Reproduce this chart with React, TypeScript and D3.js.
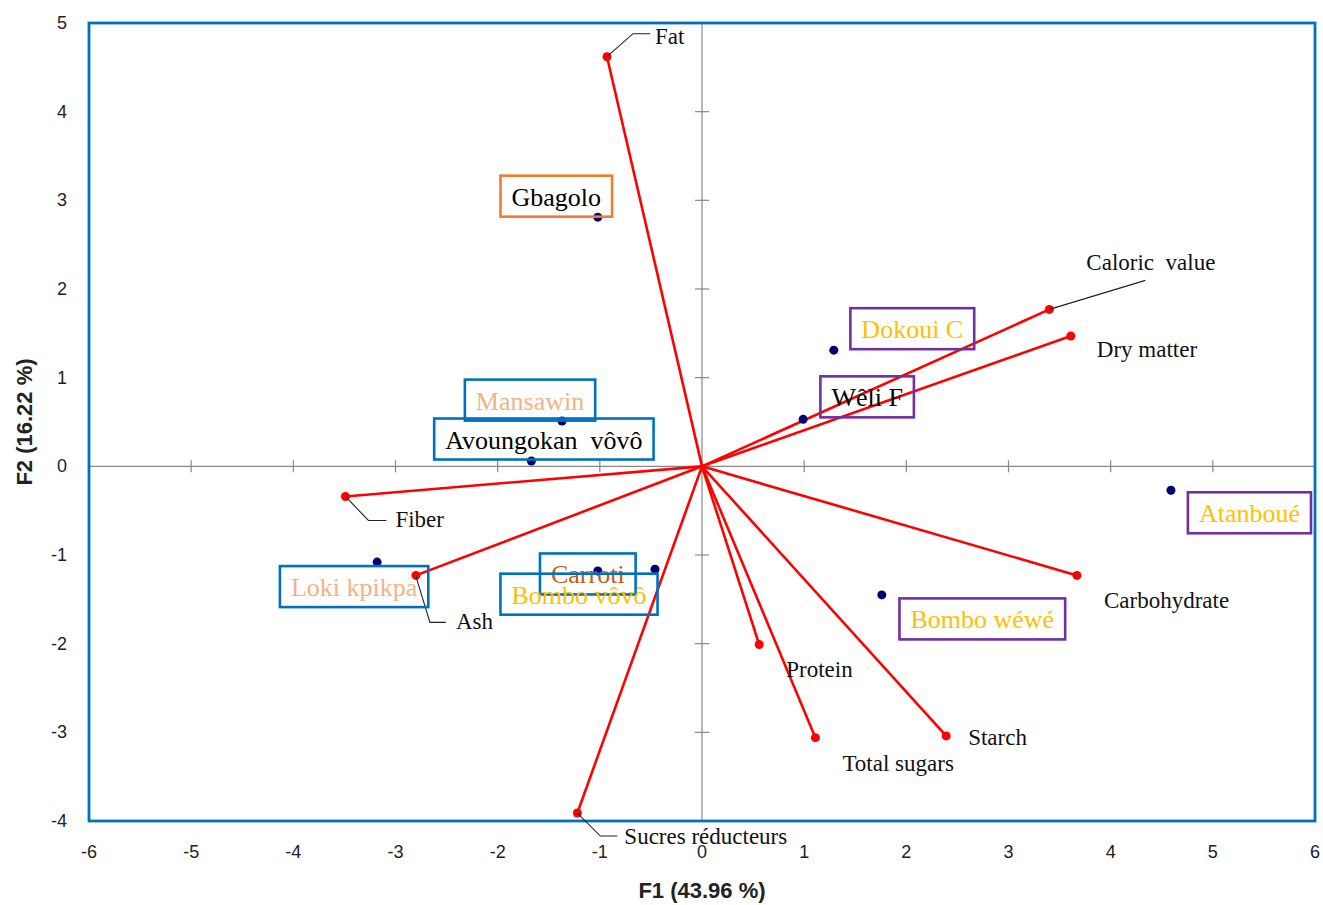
import React, { useEffect, useRef } from 'react';
import * as d3 from 'd3';

// ---- Data ----
const variables = ['Fat', 'Caloric  value', 'Dry matter', 'Fiber', 'Ash', 'Carbohydrate', 'Protein', 'Total sugars', 'Starch', 'Sucres réducteurs'];
const varF1 = [-0.93, 3.4, 3.61, -3.49, -2.8, 3.67, 0.56, 1.11, 2.39, -1.22];
const varF2 = [4.62, 1.77, 1.47, -0.34, -1.23, -1.23, -2.01, -3.06, -3.04, -3.91];

const observations = ['Gbagolo', 'Dokoui C', 'Wêli F', 'Mansawin', 'Avoungokan  vôvô', 'Atanboué', 'Loki kpikpa', 'Carroti', 'Bombo vôvô', 'Bombo wéwé'];
const obsF1 = [-1.02, 1.29, 0.99, -1.37, -1.67, 4.59, -3.18, -1.02, -0.46, 1.76];
const obsF2 = [2.81, 1.31, 0.53, 0.51, 0.06, -0.27, -1.08, -1.18, -1.16, -1.45];

const xTicks = [-6, -5, -4, -3, -2, -1, 0, 1, 2, 3, 4, 5, 6];
const yTicks = [-4, -3, -2, -1, 0, 1, 2, 3, 4, 5];
const xTitle = 'F1 (43.96 %)';
const yTitle = 'F2 (16.22 %)';

// ---- Label layout (pixel offsets from the point) and styles ----
const varLabelOffset: [number, number][] = [
  [48, -13], [37, -39], [26, 21], [50, 31], [40, 54], [27, 33], [27, 32], [27, 33], [22, 9], [47, 31],
];
const varLeader: ([number, number][] | null)[] = [
  [[0, 0], [26, -23], [43, -23]],
  [[0, 0], [96, -29]],
  null,
  [[0, 0], [23, 24], [41, 24]],
  [[0, 1], [14, 47], [30, 47]],
  null, null, null, null,
  [[0, 0], [23, 23], [40, 23]],
];
const obsBoxOffset: [number, number][] = [
  [-41.5, -21], [78.5, -21.5], [64, -22.5], [-32, -21], [12.5, -22], [78.5, 22.5], [-23, 24.5], [-10, 3], [-76, 25], [100.5, 24],
];
const BLUE = '#0070C0', PURPLE = '#7030A0', ORANGE = '#ED7D31';
const GOLD = '#FFC000', PEACH = '#F4B183', BROWN = '#C55A11';
const obsBoxColor = [ORANGE, PURPLE, PURPLE, BLUE, BLUE, PURPLE, BLUE, BLUE, BLUE, PURPLE];
const obsTextColor = ['#000', GOLD, '#000', PEACH, '#000', GOLD, PEACH, BROWN, GOLD, GOLD];

const W = 1323, H = 905;

export default function App() {
  const ref = useRef<SVGSVGElement>(null);

  useEffect(() => {
    document.body.style.margin = '0';
    const svg = d3.select(ref.current);
    svg.selectAll('*').remove();

    const x = d3.scaleLinear().domain([-6, 6]).range([89, 1315]);
    const y = d3.scaleLinear().domain([-4, 5]).range([821, 23]);
    const x0 = x(0), y0 = y(0);
    const serif = '"Liberation Serif", "Times New Roman", serif';
    const sans = '"Liberation Sans", Arial, sans-serif';

    // inner axes through origin
    const g = svg.append('g');
    g.append('line').attr('x1', x(-6)).attr('x2', x(6)).attr('y1', y0).attr('y2', y0)
      .attr('stroke', '#888').attr('stroke-width', 1.2);
    g.append('line').attr('x1', x0).attr('x2', x0).attr('y1', y(-4)).attr('y2', y(5))
      .attr('stroke', '#888').attr('stroke-width', 1.2);
    g.selectAll('.xt').data(xTicks).enter().append('line')
      .attr('x1', d => x(d)).attr('x2', d => x(d)).attr('y1', y0 - 6).attr('y2', y0 + 6)
      .attr('stroke', '#888').attr('stroke-width', 1.2);
    g.selectAll('.yt').data(yTicks).enter().append('line')
      .attr('x1', x0 - 7).attr('x2', x0 + 7).attr('y1', d => y(d)).attr('y2', d => y(d))
      .attr('stroke', '#888').attr('stroke-width', 1.2);

    // tick labels
    svg.selectAll('.xl').data(xTicks).enter().append('text')
      .attr('x', d => x(d)).attr('y', 858).attr('text-anchor', 'middle')
      .attr('font-family', sans).attr('font-size', 18).attr('fill', '#222')
      .text(d => String(d));
    svg.selectAll('.yl').data(yTicks).enter().append('text')
      .attr('x', 67).attr('y', d => y(d) + 6).attr('text-anchor', 'end')
      .attr('font-family', sans).attr('font-size', 18).attr('fill', '#222')
      .text(d => String(d));

    // axis titles
    svg.append('text').attr('x', 702).attr('y', 898).attr('text-anchor', 'middle')
      .attr('font-family', sans).attr('font-weight', 'bold').attr('font-size', 22).attr('fill', '#222')
      .text(xTitle);
    svg.append('text').attr('transform', 'translate(32,422) rotate(-90)').attr('text-anchor', 'middle')
      .attr('font-family', sans).attr('font-weight', 'bold').attr('font-size', 22).attr('fill', '#222')
      .text(yTitle);

    // plot border
    svg.append('rect').attr('x', x(-6)).attr('y', y(5)).attr('width', x(6) - x(-6)).attr('height', y(-4) - y(5))
      .attr('fill', 'none').attr('stroke', BLUE).attr('stroke-width', 2.8);

    const vars = variables.map((name, i) => ({ name, px: x(varF1[i]), py: y(varF2[i]), i }));
    const obs = observations.map((name, i) => ({ name, px: x(obsF1[i]), py: y(obsF2[i]), i }));

    // vectors
    svg.selectAll('.vec').data(vars).enter().append('line')
      .attr('x1', x0).attr('y1', y0).attr('x2', d => d.px).attr('y2', d => d.py)
      .attr('stroke', '#FF0000').attr('stroke-width', 2.6);
    svg.selectAll('.vdot').data(vars).enter().append('circle')
      .attr('cx', d => d.px).attr('cy', d => d.py).attr('r', 4.5).attr('fill', '#FF0000');

    // leaders
    const lineGen = d3.line();
    vars.forEach(d => {
      const L = varLeader[d.i];
      if (!L) return;
      svg.append('path')
        .attr('d', lineGen(L.map(([a, b]) => [d.px + a, d.py + b]) as [number, number][]))
        .attr('fill', 'none').attr('stroke', '#222').attr('stroke-width', 1.1);
    });

    // variable labels
    svg.selectAll('.vlab').data(vars).enter().append('text')
      .attr('x', d => d.px + varLabelOffset[d.i][0]).attr('y', d => d.py + varLabelOffset[d.i][1])
      .attr('font-family', serif).attr('font-size', 23).attr('fill', '#111')
      .style('white-space', 'pre')
      .text(d => d.name);

    // observation points
    svg.selectAll('.odot').data(obs).enter().append('circle')
      .attr('cx', d => d.px).attr('cy', d => d.py).attr('r', 4.5).attr('fill', '#000070');

    // observation labels with boxes
    obs.forEach(d => {
      const cx = d.px + obsBoxOffset[d.i][0];
      const cy = d.py + obsBoxOffset[d.i][1];
      const t = svg.append('text')
        .attr('x', cx).attr('y', cy + 9.5).attr('text-anchor', 'middle')
        .attr('font-family', serif).attr('font-size', 26).attr('fill', obsTextColor[d.i])
        .style('white-space', 'pre')
        .text(d.name);
      const w = (t.node() as SVGTextElement).getComputedTextLength() + 22;
      const h = 41;
      svg.insert('rect', () => t.node() as any)
        .attr('x', cx - w / 2).attr('y', cy - h / 2).attr('width', w).attr('height', h)
        .attr('fill', 'none').attr('stroke', obsBoxColor[d.i]).attr('stroke-width', 2.6);
    });
  }, []);

  return (
    <svg ref={ref} width={W} height={H} style={{ display: 'block', background: '#fff' }} />
  );
}
